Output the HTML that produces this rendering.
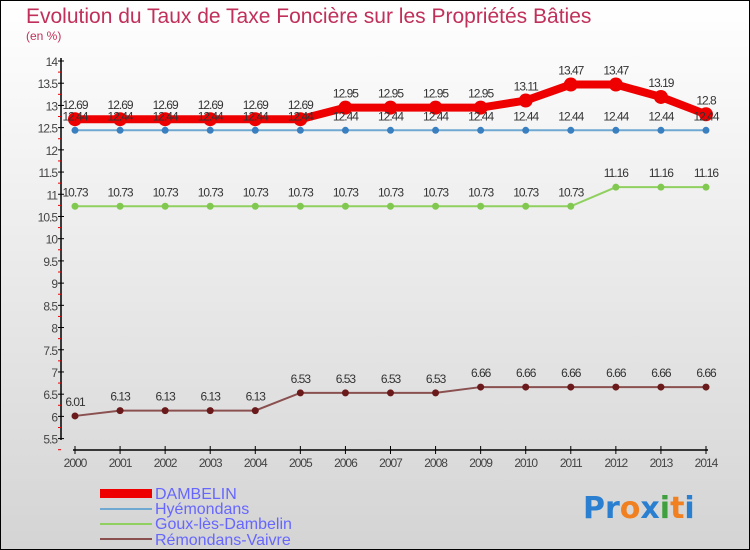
<!DOCTYPE html>
<html><head><meta charset="utf-8"><style>
body{margin:0;}
#c{width:750px;height:550px;position:relative;box-sizing:border-box;border:1px solid #000;background:linear-gradient(#ffffff,#d4d4d4);font-family:"Liberation Sans",sans-serif;overflow:hidden}
</style></head><body>
<div id="c">
<svg id="s" width="750" height="550" style="position:absolute;left:-1px;top:-1px">
<text x="26" y="23" font-size="21" fill="#c0305a">Evolution du Taux de Taxe Foncière sur les Propriétés Bâties</text>
<text x="26" y="40" font-size="12" fill="#c0305a">(en %)</text>
<g id="axes"></g><g id="series"></g>
<g>
<rect x="100" y="489" width="52" height="9" fill="#e00"/>
<text x="155" y="499" font-size="16" fill="#6666ff">DAMBELIN</text>
<line x1="100" y1="509" x2="152" y2="509" stroke="#6fa8d0" stroke-width="2"/>
<text x="155" y="514" font-size="16" fill="#6666ff">Hyémondans</text>
<line x1="100" y1="524" x2="152" y2="524" stroke="#90d060" stroke-width="2"/>
<text x="155" y="529" font-size="16" fill="#6666ff">Goux-lès-Dambelin</text>
<line x1="100" y1="539" x2="152" y2="539" stroke="#8a5050" stroke-width="2"/>
<text x="155" y="545" font-size="16" fill="#6666ff">Rémondans-Vaivre</text>
</g>
<text x="583" y="518" font-size="30" font-weight="bold" font-family="'DejaVu Sans',sans-serif"><tspan fill="#2a7fd0">Pr</tspan><tspan fill="#f08020">o</tspan><tspan fill="#2a7fd0">x</tspan><tspan fill="#40a040">i</tspan><tspan fill="#f08020">t</tspan><tspan fill="#2a7fd0">i</tspan></text>
</svg>
</div>
<script>
const years=[2000,2001,2002,2003,2004,2005,2006,2007,2008,2009,2010,2011,2012,2013,2014];
const yTicks=[5.5,6,6.5,7,7.5,8,8.5,9,9.5,10,10.5,11,11.5,12,12.5,13,13.5,14];
const dambelin=[12.69,12.69,12.69,12.69,12.69,12.69,12.95,12.95,12.95,12.95,13.11,13.47,13.47,13.19,12.8];
const hyemondans=[12.44,12.44,12.44,12.44,12.44,12.44,12.44,12.44,12.44,12.44,12.44,12.44,12.44,12.44,12.44];
const goux=[10.73,10.73,10.73,10.73,10.73,10.73,10.73,10.73,10.73,10.73,10.73,10.73,11.16,11.16,11.16];
const remondans=[6.01,6.13,6.13,6.13,6.13,6.53,6.53,6.53,6.53,6.66,6.66,6.66,6.66,6.66,6.66];
const NS="http://www.w3.org/2000/svg";
const X=i=>75+i*(706-75)/(years.length-1);
const Y=v=>61+(14-v)*(438.6-61)/8.5;
function mk(t,a,p){const e=document.createElementNS(NS,t);for(const k in a)e.setAttribute(k,a[k]);p.appendChild(e);return e;}
const ax=document.getElementById('axes');
let l=mk('line',{x1:61,y1:58,x2:61,y2:440,stroke:'#000','stroke-width':1.5},ax);


yTicks.forEach(v=>{
 mk('line',{x1:58,x2:64,y1:Y(v),y2:Y(v),stroke:'#000'},ax);
 mk('line',{x1:58,x2:61,y1:Y(v)+11.1,y2:Y(v)+11.1,stroke:'#e00'},ax);
 const t=mk('text',{x:57,y:Y(v)+5,'text-anchor':'end','font-size':12,fill:'#444','letter-spacing':'-1'},ax);
 t.textContent=v;
 
 
});
l=mk('line',{x1:73,y1:450,x2:708,y2:450,stroke:'#000','stroke-width':1.5},ax);


years.forEach((y,i)=>{
 mk('line',{x1:X(i),x2:X(i),y1:446,y2:454,stroke:'#000'},ax);
 const t=mk('text',{x:X(i),y:467,'text-anchor':'middle','font-size':12,fill:'#444','letter-spacing':'-1'},ax);
 t.textContent=y;
 
 
});
const sg=document.getElementById('series');
function series(name,data,color,w,r,fill){
 const g=mk('g',{},sg);
 
 
 mk('polyline',{points:data.map((v,i)=>X(i)+','+Y(v)).join(' '),fill:'none',stroke:color,'stroke-width':w},g);
 data.forEach((v,i)=>{
  const c=mk('circle',{cx:X(i),cy:Y(v),r:r,fill:fill},g);
  
  
  const t=mk('text',{x:X(i),y:Y(v)-10,'text-anchor':'middle','font-size':12,fill:'#333','letter-spacing':'-1'},g);
  t.textContent=v;
  
  
 });
}
series('dambelin',dambelin,'#e00',8,7,'#e00');
series('hyemondans',hyemondans,'#6fa8d0',2,3.5,'#3a80c0');
series('goux',goux,'#90d060',2,3.5,'#80c850');
series('remondans',remondans,'#8a5050',2,3.5,'#6a1a1a');
</script>
</body></html>
